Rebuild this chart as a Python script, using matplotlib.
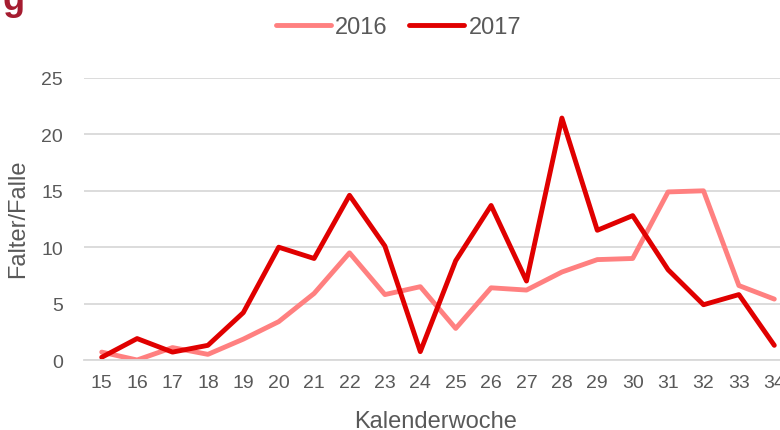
import matplotlib
matplotlib.use("Agg")
import matplotlib.pyplot as plt

weeks = list(range(15, 35))
v2016 = [0.7, 0.0, 1.1, 0.5, 1.85, 3.4, 5.9, 9.5, 5.8, 6.5, 2.8, 6.4, 6.2, 7.8, 8.9, 9.0, 14.9, 15.0, 6.6, 5.4]
v2017 = [0.24, 1.9, 0.7, 1.3, 4.2, 10.0, 9.0, 14.6, 10.1, 0.74, 8.8, 13.7, 7.0, 21.45, 11.5, 12.8, 8.0, 4.9, 5.8, 1.3]
yticks = [0, 5, 10, 15, 20, 25]

plt.rcParams['font.family'] = ['Liberation Sans', 'DejaVu Sans']
txt = '#595959'

fig = plt.figure(figsize=(7.8, 4.31), dpi=100)
ax = fig.add_axes([84/780, 1-361/431, (792-84)/780, (361-79)/431])
ax.plot(weeks, v2016, color='#FF8080', lw=3.5, label='2016', solid_capstyle='round', solid_joinstyle='round')
ax.plot(weeks, v2017, color='#E00000', lw=3.5, label='2017', solid_capstyle='round', solid_joinstyle='round')
ax.set_xlim(14.5, 34.5)
ax.set_ylim(0, 25)
ax.set_yticks(yticks)
ax.set_xticks(weeks)
ax.set_xticklabels([str(w) for w in weeks])
ax.grid(axis='y', color='#D9D9D9', lw=1.3)
ax.set_axisbelow(True)
for s in ['top', 'right', 'left']:
    ax.spines[s].set_visible(False)
ax.spines['bottom'].set_color('#D9D9D9')
ax.spines['bottom'].set_linewidth(1.3)
ax.tick_params(axis='both', length=0, labelsize=14, colors=txt)
ax.tick_params(axis='x', pad=10)
ax.tick_params(axis='y', pad=15)
fig.text(436/780, 1-428/431, 'Kalenderwoche', fontsize=17, color=txt, ha='center', va='baseline')
fig.text(18/780, 1-219/431, 'Falter/Falle', fontsize=17, color=txt, ha='center', va='center', rotation=90)
fig.legend(loc='center', bbox_to_anchor=(398.5/780, 1-28/431), ncol=2, frameon=False,
           fontsize=17, labelcolor=txt, handlelength=2.33, handletextpad=0.17, columnspacing=0.93)
fig.text(3/780, 1+17/431, 'g', fontsize=26, fontweight='bold', color='#A51C30', va='top', ha='left')
fig.savefig('out.png', dpi=100)
